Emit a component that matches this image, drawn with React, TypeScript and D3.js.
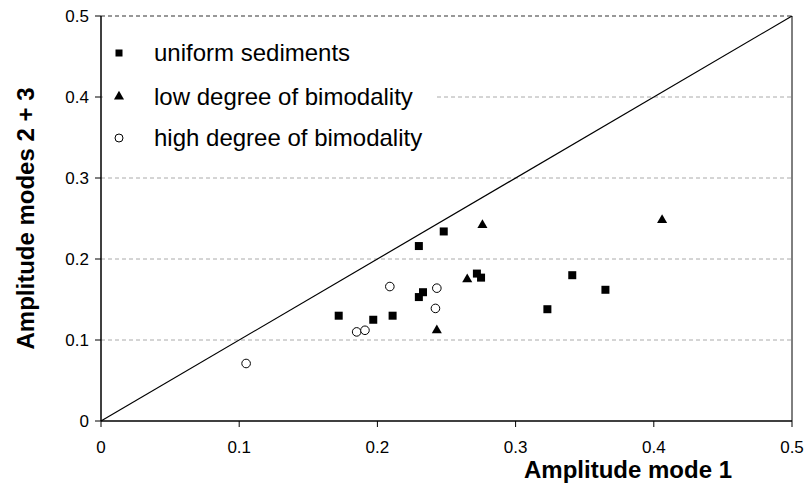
import React from "react";
import * as d3 from "d3";

const uniformX = [0.172, 0.197, 0.211, 0.230, 0.230, 0.233, 0.248, 0.272, 0.275, 0.323, 0.341, 0.365];
const uniformY = [0.130, 0.125, 0.130, 0.216, 0.153, 0.159, 0.234, 0.182, 0.177, 0.138, 0.180, 0.162];

const lowX = [0.243, 0.265, 0.276, 0.406];
const lowY = [0.112, 0.175, 0.242, 0.248];

const highX = [0.105, 0.185, 0.191, 0.209, 0.242, 0.243];
const highY = [0.071, 0.110, 0.112, 0.166, 0.139, 0.164];

const xTicks = [0, 0.1, 0.2, 0.3, 0.4, 0.5];
const yTicks = [0, 0.1, 0.2, 0.3, 0.4, 0.5];
const xTickLabels = ["0", "0.1", "0.2", "0.3", "0.4", "0.5"];
const yTickLabels = ["0", "0.1", "0.2", "0.3", "0.4", "0.5"];

const legendLabels = ["uniform sediments", "low degree of bimodality", "high degree of bimodality"];
const xTitle = "Amplitude mode 1";
const yTitle = "Amplitude modes 2 + 3";

const W = 807;
const H = 486;
const L = 101;
const R = 792;
const T = 16;
const B = 421;
const FONT = "'Liberation Sans', Arial, Helvetica, sans-serif";

export default function App() {
  const x = d3.scaleLinear().domain([0, 0.5]).range([L, R]);
  const y = d3.scaleLinear().domain([0, 0.5]).range([B, T]);
  const sq = 8;
  const tri = d3.symbol().type(d3.symbolTriangle).size(44);
  const triPath = tri() as string;

  const diag = d3.line<number>().x((d) => x(d)).y((d) => y(d))([0, 0.5]) as string;

  const legendRows = [53, 96.5, 138];

  return (
    <svg
      width={W}
      height={H}
      style={{ position: "absolute", left: 0, top: 0, display: "block", background: "#fff" }}
      fontFamily={FONT}
    >
      <rect x={0} y={0} width={W} height={H} fill="#fff" />
      {/* gridlines */}
      {yTicks.filter((t) => t > 0).map((t) => (
        <line
          key={"g" + t}
          x1={L}
          x2={R}
          y1={y(t)}
          y2={y(t)}
          stroke={t === 0.5 ? "#777" : "#aaa"}
          strokeWidth={t === 0.5 ? 1.5 : 1}
          strokeDasharray="4,3"
        />
      ))}
      {/* legend background */}
      <rect x={L + 2} y={22} width={332} height={148} fill="#fff" />
      {/* right border */}
      <line x1={R} x2={R} y1={T} y2={B} stroke="#000" strokeWidth={1} />
      {/* diagonal */}
      <path d={diag} stroke="#000" strokeWidth={1.2} fill="none" />
      {/* axes */}
      <line x1={L} x2={L} y1={T} y2={B} stroke="#000" strokeWidth={1.5} />
      <line x1={L} x2={R} y1={B} y2={B} stroke="#000" strokeWidth={1.5} />
      {yTicks.map((t, i) => (
        <g key={"yt" + t}>
          <line x1={L - 6} x2={L} y1={y(t)} y2={y(t)} stroke="#000" strokeWidth={1} />
          <text x={89} y={y(t)} dy="0.35em" textAnchor="end" fontSize={17} fill="#000">
            {yTickLabels[i]}
          </text>
        </g>
      ))}
      {xTicks.map((t, i) => (
        <g key={"xt" + t}>
          <line x1={x(t)} x2={x(t)} y1={B} y2={B + 6} stroke="#000" strokeWidth={1} />
          <text x={x(t)} y={453} textAnchor="middle" fontSize={17} fill="#000">
            {xTickLabels[i]}
          </text>
        </g>
      ))}
      {/* titles */}
      <text x={628} y={478} textAnchor="middle" fontSize={24} fontWeight="bold" fill="#000">
        {xTitle}
      </text>
      <text
        transform={`translate(34, ${(T + B) / 2}) rotate(-90)`}
        textAnchor="middle"
        fontSize={24}
        fontWeight="bold"
        fill="#000"
      >
        {yTitle}
      </text>
      {/* points */}
      {uniformX.map((v, i) => (
        <rect key={"u" + i} x={x(v) - sq / 2} y={y(uniformY[i]) - sq / 2} width={sq} height={sq} fill="#000" />
      ))}
      {lowX.map((v, i) => (
        <path key={"l" + i} d={triPath} transform={`translate(${x(v)},${y(lowY[i])})`} fill="#000" />
      ))}
      {highX.map((v, i) => (
        <circle key={"h" + i} cx={x(v)} cy={y(highY[i])} r={4.3} fill="#fff" stroke="#000" strokeWidth={1} />
      ))}
      {/* legend */}
      <rect x={119 - 3.5} y={legendRows[0] - 3.5} width={7} height={7} fill="#000" />
      <path d={triPath} transform={`translate(119,${legendRows[1]})`} fill="#000" />
      <circle cx={119} cy={legendRows[2]} r={4} fill="#fff" stroke="#000" strokeWidth={1} />
      {legendLabels.map((lab, i) => (
        <text key={lab} x={154} y={legendRows[i] + 8} fontSize={24} fill="#000">
          {lab}
        </text>
      ))}
    </svg>
  );
}
